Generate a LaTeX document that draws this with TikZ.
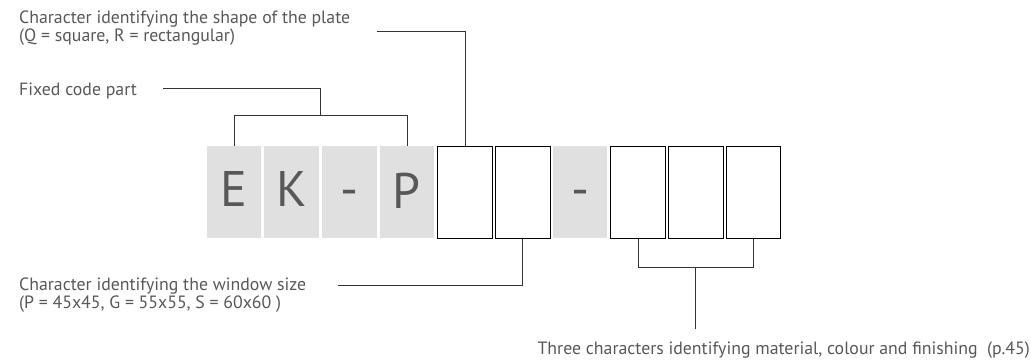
\documentclass[tikz,border=0pt]{standalone}
\usepackage{fontspec}
\setmainfont{PT Sans}
\definecolor{txt}{HTML}{585858}
\definecolor{boxgray}{HTML}{E0E0E0}
\definecolor{ln}{HTML}{333333}
\tikzset{
  cell/.style={rectangle, minimum width=54.5pt, minimum height=92pt, inner sep=0pt, anchor=north west},
  graycell/.style={cell, fill=boxgray, draw=none},
  whitecell/.style={cell, fill=white, draw=black, line width=0.9pt},
  letter/.style={anchor=base, inner sep=0pt, text=txt, font=\fontsize{50}{50}\selectfont},
  lbl/.style={anchor=base west, inner sep=0pt, text=txt, align=left, font=\fontsize{17.8}{14.5}\selectfont},
  conn/.style={draw=ln, line width=0.9pt}
}
\begin{document}
\begin{tikzpicture}[x=1pt,y=-1pt]
\useasboundingbox (0,0) rectangle (1031,360);
% cells
\node[graycell]  (b0) at (206.5,146) {};
\node[graycell]  (b1) at (264.2,146) {};
\node[graycell]  (b2) at (321.9,146) {};
\node[graycell]  (b3) at (379.6,146) {};
\node[whitecell] (b4) at (437.3,146) {};
\node[whitecell] (b5) at (495.0,146) {};
\node[graycell]  (b6) at (552.7,146) {};
\node[whitecell] (b7) at (610.4,146) {};
\node[whitecell] (b8) at (668.1,146) {};
\node[whitecell] (b9) at (725.8,146) {};
% letters
\node[letter] (l0) at (233.5,206.7) {E};
\node[letter] (l1) at (291.5,206.7) {K};
\node[letter] (l2) at (349.1,206.7) {-};
\node[letter] (l3) at (406.8,208) {P};
\node[letter] (l6) at (580.0,206.7) {-};
% labels (base anchor = baseline of the last line)
\node[lbl] (tplate) at (19,41) {Character identifying the shape of the plate\\(Q = square, R = rectangular)};
\node[lbl] (tfixed) at (19,95) {Fixed code part};
\node[lbl] (twin) at (19,308) {Character identifying the window size\\(P = 45x45, G = 55x55, S = 60x60 )};
\node[lbl, anchor=base east] (tthree) at (1030,354) {Three characters identifying material, colour and finishing\ \ (p.45)};
% connector coordinates
\coordinate (cplate) at (376.7,31);
\coordinate (cfixed) at (163.3,88.3);
\coordinate (bfixed) at (320.3,115.7);
\coordinate (cwin) at (337.7,285);
\coordinate (bthree) at (695.3,267.7);
\coordinate (cthree) at (695.3,329);
% connectors
\draw[conn] (cplate) -| (b4.north);
\draw[conn] (cfixed) -| (bfixed);
\draw[conn] (b0.north) |- (bfixed) -| (b3.north);
\draw[conn] (cwin) -| (b5.south);
\draw[conn] (b7.south) |- (bthree) -| (b9.south);
\draw[conn] (bthree) -- (cthree);
\end{tikzpicture}
\end{document}
